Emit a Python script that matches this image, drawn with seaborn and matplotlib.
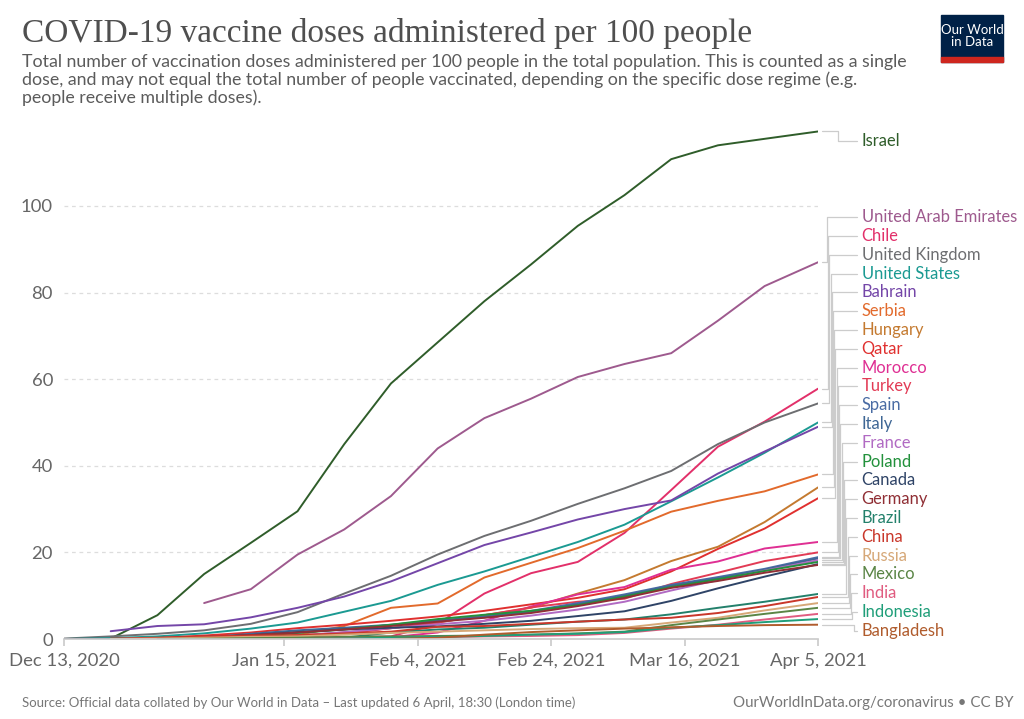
import numpy as np
import pandas as pd
import matplotlib.pyplot as plt
import matplotlib.transforms as mtransforms
from matplotlib.patches import Rectangle
import seaborn as sns

nan = np.nan

# Weekly sample dates (last point is Apr 5)
dates = pd.to_datetime(['2020-12-13', '2020-12-20', '2020-12-27', '2021-01-03', '2021-01-10',
                        '2021-01-17', '2021-01-24', '2021-01-31', '2021-02-07', '2021-02-14',
                        '2021-02-21', '2021-02-28', '2021-03-07', '2021-03-14', '2021-03-21',
                        '2021-03-28', '2021-04-05'])

# Doses per 100 people
israel = [0, 0.1, 5.5, 15, 22.2, 29.5, 45, 59, 68.5, 78, 86.5, 95.4, 102.5, 110.8, 114, 115.5, 117.2]
uae = [nan, nan, nan, 8.3, 11.5, 19.5, 25.3, 33, 44, 51, 55.5, 60.5, 63.5, 66, 73.5, 81.5, 87]
chile = [nan, nan, 0.02, 0.05, 0.1, 0.2, 0.4, 0.6, 3.5, 10.5, 15.2, 17.8, 24.5, 34.4, 44.4, 50.2, 57.8]
uk = [0.1, 0.6, 1.2, 2.0, 3.5, 6.2, 10.5, 14.6, 19.5, 23.8, 27.3, 31.2, 34.8, 38.8, 45, 50, 54.4]
us = [0, 0.2, 0.6, 1.3, 2.4, 3.8, 6.3, 8.8, 12.5, 15.6, 19, 22.4, 26.4, 31.8, 37.3, 43, 50]
bahrain = [nan, 1.8, 3.0, 3.4, 5.0, 7.2, 9.8, 13.3, 17.5, 21.7, 24.6, 27.6, 30, 32, 38.2, 43.3, 49]
serbia = [nan, nan, 0.02, 0.1, 0.3, 0.9, 3.0, 7.2, 8.2, 14.2, 17.6, 21, 25, 29.4, 31.9, 34.1, 38]
hungary = [nan, nan, 0.05, 0.2, 0.4, 0.8, 1.5, 2.5, 3.8, 5.5, 7.2, 10.5, 13.6, 18, 21.3, 27, 35]
qatar = [nan, nan, 0.2, 0.8, 1.5, 2.5, 3.3, 4.2, 5.2, 6.5, 8.0, 9.5, 11.5, 15.6, 20.8, 25.5, 32.5]
morocco = [nan, nan, nan, nan, nan, nan, nan, 0.4, 1.5, 4.2, 7.5, 10.3, 12, 16, 17.9, 20.9, 22.4]
turkey = [nan, nan, nan, nan, nan, 0.3, 1.2, 2.5, 3.8, 5.5, 7.3, 8.6, 9.3, 12.7, 15.3, 18, 20]
spain = [nan, nan, 0.01, 0.2, 0.8, 1.5, 2.3, 3.2, 4.2, 5.2, 6.5, 8.3, 10.3, 12.5, 14.3, 16.2, 18.9]
italy = [nan, nan, 0.01, 0.3, 1.2, 2.0, 2.6, 3.3, 4.3, 5.0, 6.3, 8.0, 10.0, 12.3, 14.0, 16.0, 18.6]
france = [nan, nan, 0.0, 0.01, 0.2, 0.8, 1.6, 2.5, 3.4, 4.2, 5.4, 6.8, 8.6, 11.2, 13.6, 15.8, 18.2]
poland = [nan, nan, 0.01, 0.2, 0.6, 1.4, 2.2, 3.3, 4.6, 5.6, 6.5, 7.8, 9.8, 12.0, 13.8, 15.7, 17.8]
canada = [0, 0.03, 0.2, 0.5, 0.9, 1.6, 2.2, 2.6, 2.9, 3.5, 4.2, 5.3, 6.4, 8.8, 11.7, 14.4, 17.3]
germany = [nan, nan, 0.05, 0.4, 0.9, 1.5, 2.2, 3.0, 4.0, 4.9, 6.0, 7.6, 9.5, 11.8, 13.4, 15.3, 17.1]
brazil = [nan, nan, nan, nan, nan, 0.0, 0.3, 1.5, 2.2, 2.6, 3.3, 4.0, 4.5, 5.7, 7.2, 8.6, 10.4]
china = [nan, 0.1, 0.3, 0.6, 0.8, 0.9, 1.3, 1.7, 2.8, 3.0, 3.5, 4.0, 4.5, 4.9, 6.0, 7.6, 9.7]
russia = [nan, 0.02, 0.1, 0.3, 0.5, 0.6, 1.0, 1.4, 1.7, 2.0, 2.3, 2.5, 2.6, 3.8, 4.9, 6.6, 8.3]
mexico = [nan, nan, 0.01, 0.05, 0.2, 0.3, 0.5, 0.6, 0.7, 0.8, 1.0, 1.3, 1.7, 3.2, 4.5, 5.8, 7.2]
india = [nan, nan, nan, nan, nan, 0.0, 0.1, 0.2, 0.4, 0.6, 0.7, 0.9, 1.4, 2.4, 3.3, 4.5, 5.8]
indonesia = [nan, nan, nan, nan, nan, 0.02, 0.1, 0.3, 0.5, 0.7, 1.0, 1.2, 1.6, 2.6, 3.2, 3.9, 4.6]
bangladesh = [nan, nan, nan, nan, nan, nan, nan, 0.0, 0.3, 1.0, 1.6, 2.0, 2.4, 2.7, 3.0, 3.2, 3.3]

countries = ['Israel', 'United Arab Emirates', 'Chile', 'United Kingdom', 'United States',
             'Bahrain', 'Serbia', 'Hungary', 'Qatar', 'Morocco', 'Turkey', 'Spain', 'Italy',
             'France', 'Poland', 'Canada', 'Germany', 'Brazil', 'China', 'Russia', 'Mexico',
             'India', 'Indonesia', 'Bangladesh']
series = [israel, uae, chile, uk, us, bahrain, serbia, hungary, qatar, morocco, turkey, spain,
          italy, france, poland, canada, germany, brazil, china, russia, mexico, india,
          indonesia, bangladesh]
colors = ['#2f5d2a', '#9e5a8e', '#e2306a', '#6d6e71', '#1b9a92', '#7446a8', '#e26a2c',
          '#c47a30', '#e0302f', '#df2f93', '#e23b55', '#4a6ca4', '#3f6795', '#b16ac3',
          '#23913c', '#2f4467', '#902f35', '#23806b', '#c9372a', '#d6a878', '#5a8545',
          '#e05c80', '#1f9e79', '#b05c2d']

rows = []
for name, vals in zip(countries, series):
    for d, v in zip(dates, vals):
        rows.append((name, d, v))
df = pd.DataFrame(rows, columns=['country', 'date', 'doses']).dropna()

sns.set_theme(style='white')
plt.rcParams['font.family'] = ['Lato', 'DejaVu Sans']

fig = plt.figure(figsize=(10.24, 7.19), dpi=100)
ax = fig.add_axes([64 / 1024, 80 / 719, 754 / 1024, 511 / 719])

sns.lineplot(data=df, x='date', y='doses', hue='country', hue_order=countries,
             palette=dict(zip(countries, colors)), estimator=None, linewidth=1.4,
             legend=False, ax=ax)

ax.set_xlim(dates[0], dates[-1])
ax.set_ylim(0, 118)
ax.set_xlabel('')
ax.set_ylabel('')

xticks = pd.to_datetime(['2020-12-13', '2021-01-15', '2021-02-04', '2021-02-24',
                         '2021-03-16', '2021-04-05'])
ax.set_xticks(xticks)
ax.set_xticklabels(['Dec 13, 2020', 'Jan 15, 2021', 'Feb 4, 2021', 'Feb 24, 2021',
                    'Mar 16, 2021', 'Apr 5, 2021'], fontsize=13.3, color='#666666')
ax.set_yticks([0, 20, 40, 60, 80, 100])
ax.set_yticklabels(['0', '20', '40', '60', '80', '100'], fontsize=13.3, color='#666666')
ax.tick_params(axis='x', length=5, color='#cccccc', pad=5, bottom=True)
ax.tick_params(axis='y', length=0, pad=8)

for v in [20, 40, 60, 80, 100]:
    ax.axhline(v, color='#dddddd', linestyle=(0, (3, 3)), linewidth=0.9, zorder=0)

for s in ['left', 'top', 'right']:
    ax.spines[s].set_visible(False)
ax.spines['bottom'].set_color('#cccccc')
ax.grid(False)

# Labels on the right with elbow connectors
trans = mtransforms.blended_transform_factory(ax.transAxes, ax.transData)
label_x = 1.058
ends = [vals[-1] for vals in series]

ax.plot([1.005, 1.027, 1.027, 1.052], [ends[0], ends[0], 115.0, 115.0],
        transform=trans, color='#cccccc', lw=0.9, clip_on=False)
ax.text(label_x, 115.0, countries[0], transform=trans, color=colors[0],
        fontsize=11.9, va='center', ha='left')

for i, (name, col, end) in enumerate(zip(countries[1:], colors[1:], ends[1:])):
    ly = 97.4 - 4.34 * i
    ex = 1.012 + 0.0016 * i
    ax.plot([1.005, ex, ex, 1.052], [end, end, ly, ly], transform=trans,
            color='#cccccc', lw=0.9, clip_on=False)
    ax.text(label_x, ly, name, transform=trans, color=col, fontsize=11.9,
            va='center', ha='left')

# Title, subtitle, footer
fig.text(22 / 1024, 1 - 18 / 719, 'COVID-19 vaccine doses administered per 100 people',
         family='Liberation Serif', fontsize=24, color='#4f4f4f', va='top', ha='left')
fig.text(22 / 1024, 1 - 54 / 719,
         'Total number of vaccination doses administered per 100 people in the total population. This is counted as a single\n'
         'dose, and may not equal the total number of people vaccinated, depending on the specific dose regime (e.g.\n'
         'people receive multiple doses).',
         fontsize=12.8, color='#5b5b5b', va='top', ha='left', linespacing=1.1)
fig.text(22 / 1024, 16 / 719,
         'Source: Official data collated by Our World in Data \u2013 Last updated 6 April, 18:30 (London time)',
         fontsize=9.5, color='#777777', va='center', ha='left')
fig.text(1014 / 1024, 16 / 719, 'OurWorldInData.org/coronavirus \u2022 CC BY',
         fontsize=10.8, color='#777777', va='center', ha='right')

# Logo
fig.patches.append(Rectangle((941 / 1024, 1 - 62 / 719), 62 / 1024, 47 / 719,
                             transform=fig.transFigure, color='#002147'))
fig.patches.append(Rectangle((941 / 1024, 1 - 62 / 719), 62 / 1024, 5 / 719,
                             transform=fig.transFigure, color='#ce261e'))
fig.text(972 / 1024, 1 - 36 / 719, 'Our World\nin Data', color='white', fontsize=9.5,
         ha='center', va='center', linespacing=1.1)

fig.savefig('out.png', dpi=100)
